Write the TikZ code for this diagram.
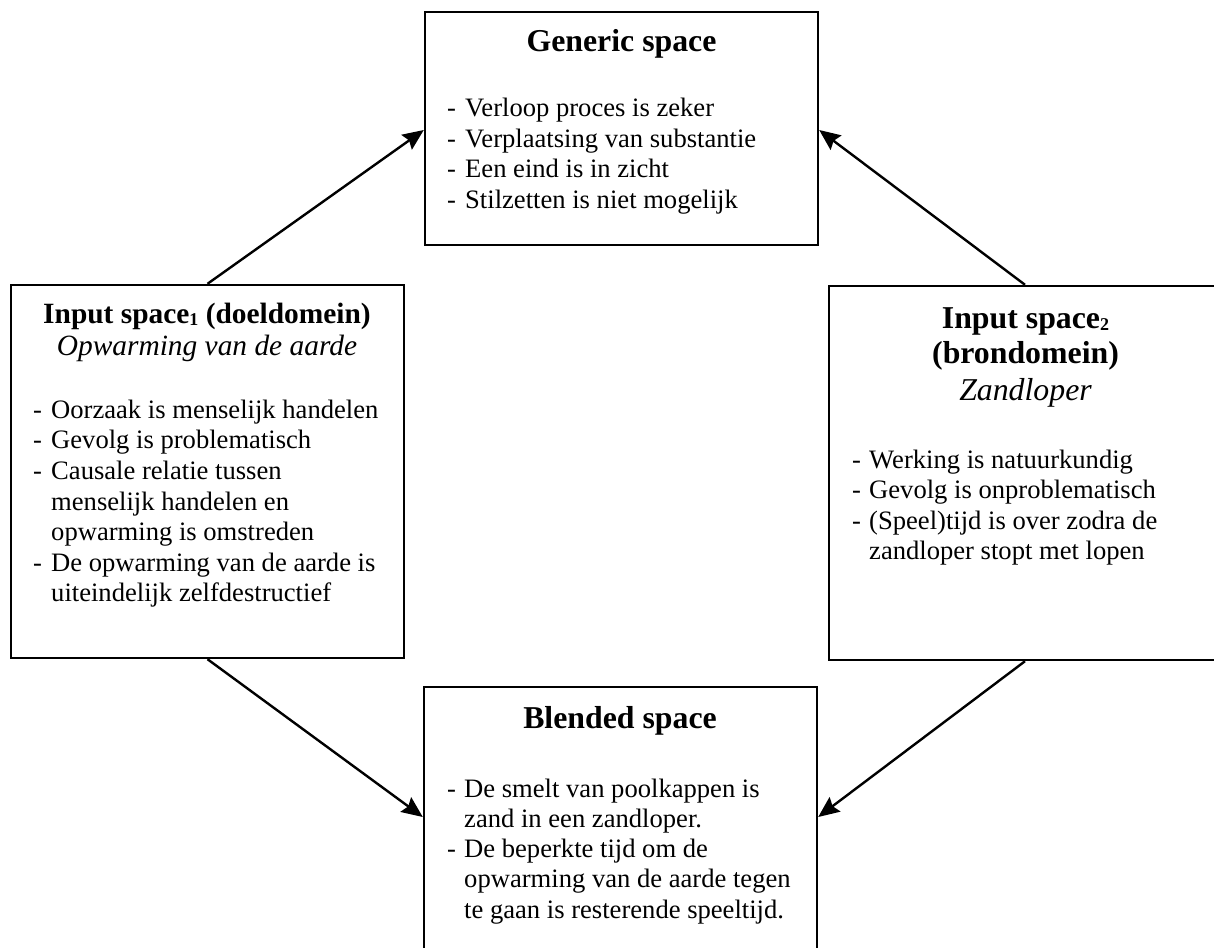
\documentclass[tikz,border=0pt]{standalone}
\usepackage{fontspec}
\setmainfont{Liberation Serif}
\usetikzlibrary{arrows.meta}
\tikzset{
  box/.style={draw=black, line width=2.4pt, inner sep=0pt},
  txt/.style={anchor=base west, inner sep=0pt, font=\fontsize{26.6}{30.6}\selectfont},
  ttl/.style={anchor=base, inner sep=0pt, font=\bfseries\fontsize{31.8}{36}\selectfont},
  ttlsmall/.style={anchor=base, inner sep=0pt, font=\bfseries\fontsize{29.4}{33}\selectfont},
  sub/.style={anchor=base, inner sep=0pt, font=\itshape\fontsize{31.8}{36}\selectfont},
  subsmall/.style={anchor=base, inner sep=0pt, font=\itshape\fontsize{29.4}{33}\selectfont},
  conn/.style={line width=2.4pt, -{Stealth[length=21pt,width=18pt,inset=3pt]}}
}
\newcommand{\subdigit}[1]{{\fontsize{18}{18}\selectfont\raisebox{-2pt}{#1}}}
\begin{document}
\begin{tikzpicture}[x=1pt,y=-1pt]
\useasboundingbox (0,0) rectangle (1214,947);

% boxes
\node[box, minimum width=393pt, minimum height=233pt] (gen) at (621.5,128.5) {};
\node[box, minimum width=393pt, minimum height=373pt] (left) at (207.5,471.5) {};
\node[box, minimum width=392pt, minimum height=374pt] (right) at (1025,473) {};
\node[box, minimum width=393pt, minimum height=280pt] (blend) at (620.5,827) {};

% generic space
\node[ttl] (gt) at (621.5,52) {Generic space};
\node[txt] (gd1) at (447,116.7) {-};
\node[txt] (gi1) at (465,116.7) {Verloop proces is zeker};
\node[txt] (gd2) at (447,147.3) {-};
\node[txt] (gi2) at (465,147.3) {Verplaatsing van substantie};
\node[txt] (gd3) at (447,177.9) {-};
\node[txt] (gi3) at (465,177.9) {Een eind is in zicht};
\node[txt] (gd4) at (447,208.5) {-};
\node[txt] (gi4) at (465,208.5) {Stilzetten is niet mogelijk};

% input space 1
\node[ttlsmall] (lt) at (207,323) {Input space\subdigit{1} (doeldomein)};
\node[subsmall] (ls) at (207,355) {Opwarming van de aarde};
\node[txt] (ld1) at (33,418.3) {-};
\node[txt] (li1) at (51,418.3) {Oorzaak is menselijk handelen};
\node[txt] (ld2) at (33,448.9) {-};
\node[txt] (li2) at (51,448.9) {Gevolg is problematisch};
\node[txt] (ld3) at (33,479.5) {-};
\node[txt] (li3) at (51,479.5) {Causale relatie tussen};
\node[txt] (li3b) at (51,510.1) {menselijk handelen en};
\node[txt] (li3c) at (51,540.7) {opwarming is omstreden};
\node[txt] (ld4) at (33,571.3) {-};
\node[txt] (li4) at (51,571.3) {De opwarming van de aarde is};
\node[txt] (li4b) at (51,601.9) {uiteindelijk zelfdestructief};

% input space 2
\node[ttl] (rt) at (1025.5,328) {Input space\subdigit{2}};
\node[ttl] (rt2) at (1025.5,363) {(brondomein)};
\node[sub] (rs) at (1025.5,400) {Zandloper};
\node[txt] (rd1) at (852,468) {-};
\node[txt] (ri1) at (869,468) {Werking is natuurkundig};
\node[txt] (rd2) at (852,498.6) {-};
\node[txt] (ri2) at (869,498.6) {Gevolg is onproblematisch};
\node[txt] (rd3) at (852,529.2) {-};
\node[txt] (ri3) at (869,529.2) {(Speel)tijd is over zodra de};
\node[txt] (ri3b) at (869,559.8) {zandloper stopt met lopen};

% blended space
\node[ttl] (bt) at (620,728) {Blended space};
\node[txt] (bd1) at (447,797) {-};
\node[txt] (bi1) at (464,797) {De smelt van poolkappen is};
\node[txt] (bi1b) at (464,827.3) {zand in een zandloper.};
\node[txt] (bd2) at (447,857.6) {-};
\node[txt] (bi2) at (464,857.6) {De beperkte tijd om de};
\node[txt] (bi2b) at (464,887.9) {opwarming van de aarde tegen};
\node[txt] (bi2c) at (464,918.2) {te gaan is resterende speeltijd.};

% connectors
\draw[conn] (left.north) -- ([yshift=-1.5pt]gen.west);
\draw[conn] (right.north) -- ([yshift=-1.5pt]gen.east);
\draw[conn] (left.south) -- ([yshift=10pt]blend.west);
\draw[conn] (right.south) -- ([yshift=10pt]blend.east);
\end{tikzpicture}
\end{document}
